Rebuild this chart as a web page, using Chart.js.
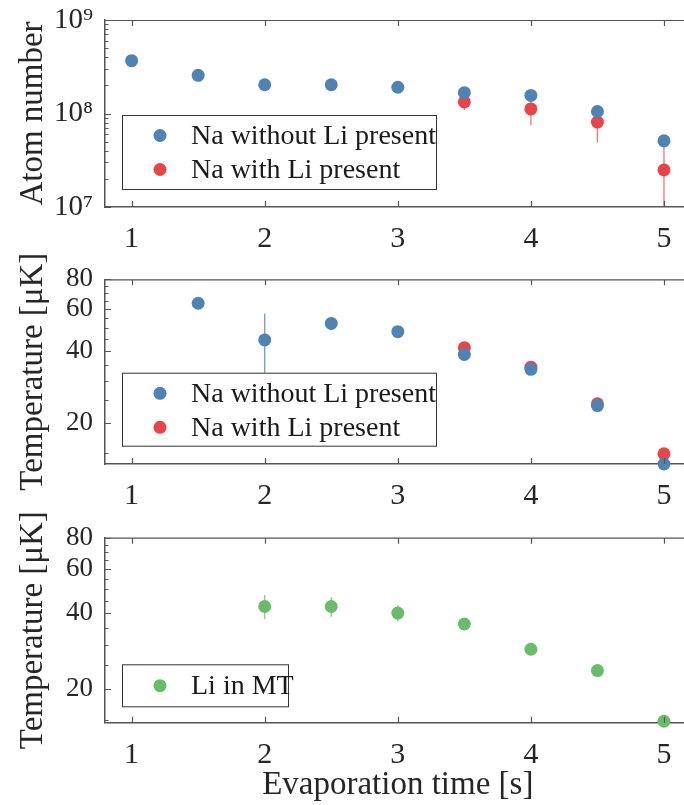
<!DOCTYPE html>
<html lang="en">
<head>
<meta charset="UTF-8">
<script src="https://cdn.jsdelivr.net/npm/chart.js@4.4.0/dist/chart.umd.min.js"></script>
<style>
  html, body { margin: 0; padding: 0; background: #fff; overflow: hidden; }
  .panel { position: absolute; left: 0; width: 700px; }
</style>
</head>
<body>
<div class="panel" style="top:0;height:255px"><canvas id="atoms" width="700" height="255"></canvas></div>
<div class="panel" style="top:255px;height:255px"><canvas id="naTemp" width="700" height="255"></canvas></div>
<div class="panel" style="top:510px;height:295px"><canvas id="liTemp" width="700" height="295"></canvas></div>
<script>
// evaporation time axis
const xTickValues = [1, 2, 3, 4, 5];

// panel 1 - atom number
const atomTimesNoLi = [1, 1.5, 2, 2.5, 3, 3.5, 4, 4.5, 5];
const atomsNoLi    = [3.67e8, 2.56e8, 2.03e8, 2.03e8, 1.91e8, 1.67e8, 1.56e8, 1.05e8, 5.1e7];
const atomsNoLiErr = [0.1e8, 0.08e8, 0.05e8, 0.05e8, 0.05e8, 0.05e8, 0.06e8, 0.05e8, 0.04e8];
const atomTimesLi  = [3.5, 4, 4.5, 5];
const atomsLi      = [1.33e8, 1.12e8, 8.1e7, 2.49e7];
const atomsLiErr   = [2.4e7, 3.7e7, 3.2e7, 2.3e7];
const atomMajorTicks = [1e7, 1e8, 1e9];

// panel 2 - Na temperature (uK)
const naTempTimesNoLi = [1.5, 2, 2.5, 3, 3.5, 4, 4.5, 5];
const naTempNoLi      = [63.5, 44.6, 52.3, 48.3, 38.8, 33.6, 23.7, 13.5];
const naTempNoLiErr   = [1, 13, 1, 1, 1.3, 0.8, 0.5, 0.4];
const naTempTimesLi   = [3.5, 4, 4.5, 5];
const naTempLi        = [41.4, 34.3, 24.1, 14.9];
const naTempLiErr     = [0.8, 0.6, 0.5, 0.8];

// panel 3 - Li temperature (uK)
const liTempTimes = [2, 2.5, 3, 3.5, 4, 4.5, 5];
const liTemp      = [42.6, 42.6, 40.1, 36.3, 28.8, 23.7, 14.9];
const liTempErr   = [4.7, 3.8, 3, 0.8, 0.6, 0.5, 0.3];

const tempMajorTicks = [20, 40, 60, 80];
const tempMinorTicks = [15, 25, 30, 35, 45, 50, 55, 65, 70, 75];

const BLUE = 'rgb(78,131,181)';
const RED = 'rgb(233,69,73)';
const GREEN = 'rgb(106,189,104)';
const SERIF = "'Liberation Serif', 'DejaVu Serif', serif";
const AXIS = '#555';

function pts(xs, ys) {
  return xs.map((x, i) => ({x: x, y: ys[i]}));
}
function sup(n) {
  const s = '⁰¹²³⁴⁵⁶⁷⁸⁹';
  return String(n).split('').map(d => s[+d]).join('');
}

// vertical error bars, clipped to the plot box
const errorBars = {
  id: 'errorBars',
  beforeDatasetsDraw(chart) {
    const {ctx, chartArea: a, scales: {x, y}} = chart;
    ctx.save();
    ctx.beginPath();
    ctx.rect(a.left, a.top, a.right - a.left, a.bottom - a.top);
    ctx.clip();
    chart.data.datasets.forEach(ds => {
      if (!ds.errors) return;
      ctx.strokeStyle = ds.errorColor;
      ctx.lineWidth = 1.3;
      ds.data.forEach((p, i) => {
        const e = ds.errors[i];
        const lo = p.y - e > 0 ? p.y - e : y.min / 10;
        const px = x.getPixelForValue(p.x);
        ctx.beginPath();
        ctx.moveTo(px, y.getPixelForValue(lo));
        ctx.lineTo(px, y.getPixelForValue(p.y + e));
        ctx.stroke();
      });
    });
    ctx.restore();
  }
};

// matlab-like box with inward tick marks
const boxTicks = {
  id: 'boxTicks',
  afterDatasetsDraw(chart) {
    const {ctx, chartArea: a, scales: {x, y}} = chart;
    ctx.save();
    ctx.strokeStyle = AXIS;
    ctx.lineWidth = 1.2;
    ctx.beginPath();
    ctx.moveTo(a.left, a.top + 0.5);
    ctx.lineTo(a.right, a.top + 0.5);
    ctx.moveTo(a.right - 0.5, a.top);
    ctx.lineTo(a.right - 0.5, a.bottom);
    x.ticks.forEach(t => {
      const px = Math.round(x.getPixelForValue(t.value)) + 0.5;
      ctx.moveTo(px, a.bottom); ctx.lineTo(px, a.bottom - 6);
      ctx.moveTo(px, a.top); ctx.lineTo(px, a.top + 6);
    });
    y.ticks.forEach(t => {
      const py = Math.round(y.getPixelForValue(t.value)) + 0.5;
      const len = t.label ? 6 : 3.5;
      ctx.moveTo(a.left, py); ctx.lineTo(a.left + len, py);
    });
    ctx.stroke();
    ctx.restore();
  }
};

// legend box inside the plot
const boxLegend = {
  id: 'boxLegend',
  afterDraw(chart, args, opts) {
    const ctx = chart.ctx;
    ctx.save();
    ctx.fillStyle = '#fff';
    ctx.fillRect(opts.left, opts.top, opts.width, opts.height);
    ctx.strokeStyle = '#333';
    ctx.lineWidth = 1;
    ctx.strokeRect(opts.left + 0.5, opts.top + 0.5, opts.width, opts.height);
    ctx.font = '28px ' + SERIF;
    ctx.textBaseline = 'middle';
    chart.data.datasets.forEach((ds, i) => {
      const yy = opts.top + opts.firstRow + i * 34;
      ctx.fillStyle = ds.backgroundColor;
      ctx.beginPath();
      ctx.arc(opts.left + 38, yy, 6.5, 0, Math.PI * 2);
      ctx.fill();
      ctx.fillStyle = '#1a1a1a';
      ctx.fillText(ds.label, opts.left + 69, yy + 1);
    });
    ctx.restore();
  }
};

function makePanel(id, datasets, yCfg, padTop, xHeight, legend, xTitle) {
  datasets.forEach(ds => {
    ds.pointRadius = 6.5;
    ds.pointHoverRadius = 6.5;
    ds.borderWidth = 0;
    ds.showLine = false;
    ds.clip = false;
  });
  return new Chart(document.getElementById(id), {
    type: 'scatter',
    data: {datasets: datasets},
    plugins: [errorBars, boxTicks, boxLegend],
    options: {
      responsive: false,
      animation: false,
      events: [],
      layout: {padding: {top: padTop, right: 9.4, left: 0, bottom: 0}},
      plugins: {legend: {display: false}, tooltip: {enabled: false}, boxLegend: legend},
      scales: {
        x: {
          type: 'linear', min: 0.8, max: 5.2,
          afterBuildTicks: s => { s.ticks = xTickValues.map(v => ({value: v})); },
          afterFit: s => { s.height = xHeight; s.paddingLeft = 0; s.paddingRight = 0; },
          grid: {drawOnChartArea: false, drawTicks: false},
          border: {color: AXIS, width: 1.5},
          ticks: {color: '#262626', padding: 14, font: {family: SERIF, size: 30}, callback: v => String(v)},
          title: {display: !!xTitle, text: xTitle || '', color: '#262626', padding: {top: 0, bottom: 0},
                  font: {family: SERIF, size: 33}}
        },
        y: {
          type: 'logarithmic', min: yCfg.min, max: yCfg.max, bounds: 'data',
          afterBuildTicks: s => { s.ticks = yCfg.ticks.map(v => ({value: v})); },
          afterFit: s => { s.width = 105; s.paddingTop = 0; s.paddingBottom = 0; },
          grid: {drawOnChartArea: false, drawTicks: false},
          border: {color: AXIS, width: 1.5},
          ticks: {color: '#262626', padding: 12, autoSkip: false,
                  font: {family: SERIF, size: yCfg.fontSize}, callback: yCfg.label},
          title: {display: true, text: yCfg.title, color: '#262626', padding: {top: 14, bottom: 0},
                  font: {family: SERIF, size: 33}}
        }
      }
    }
  });
}

const atomTicks = [];
for (let e = 7; e < 9; e++) for (let m = 1; m < 10; m++) atomTicks.push(m * Math.pow(10, e));
atomTicks.push(1e9);

makePanel('atoms', [
  {label: 'Na without Li present', data: pts(atomTimesNoLi, atomsNoLi), errors: atomsNoLiErr,
   backgroundColor: BLUE, errorColor: 'rgba(78,131,181,0.8)'},
  {label: 'Na with Li present', data: pts(atomTimesLi, atomsLi), errors: atomsLiErr,
   backgroundColor: RED, errorColor: 'rgba(233,69,73,0.75)'}
], {
  min: 1e7, max: 1e9, ticks: atomTicks, fontSize: 29, title: 'Atom number',
  label: v => atomMajorTicks.includes(v) ? '10' + sup(Math.round(Math.log10(v))) : ''
}, 20, 48, {left: 122, top: 115, width: 314, height: 74, firstRow: 20.5}, null);

const tempTicks = tempMajorTicks.concat(tempMinorTicks).sort((a, b) => a - b);

makePanel('naTemp', [
  {label: 'Na without Li present', data: pts(naTempTimesNoLi, naTempNoLi), errors: naTempNoLiErr,
   backgroundColor: BLUE, errorColor: 'rgba(78,131,181,0.8)'},
  {label: 'Na with Li present', data: pts(naTempTimesLi, naTempLi), errors: naTempLiErr,
   backgroundColor: RED, errorColor: 'rgba(233,69,73,0.75)'}
], {
  min: 13.5, max: 80, ticks: tempTicks, fontSize: 27, title: 'Temperature [μK]',
  label: v => tempMajorTicks.includes(v) ? String(v) : ''
}, 24.3, 46, {left: 122, top: 117.7, width: 314, height: 73, firstRow: 20.6}, null);

makePanel('liTemp', [
  {label: 'Li in MT', data: pts(liTempTimes, liTemp), errors: liTempErr,
   backgroundColor: GREEN, errorColor: 'rgba(106,189,104,0.8)'}
], {
  min: 14.7, max: 80, ticks: tempTicks, fontSize: 27, title: 'Temperature [μK]',
  label: v => tempMajorTicks.includes(v) ? String(v) : ''
}, 27.7, 82.3, {left: 122, top: 154.3, width: 166, height: 42, firstRow: 21.4}, 'Evaporation time [s]');
</script>
</body>
</html>
